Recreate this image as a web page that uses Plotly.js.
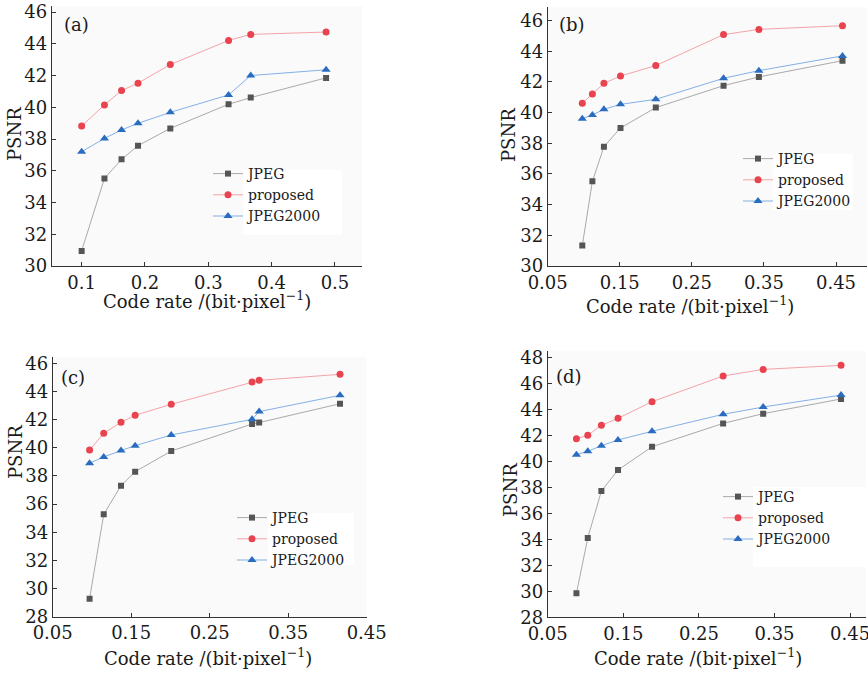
<!DOCTYPE html>
<html>
<head>
<meta charset="utf-8">
<script src="https://cdn.plot.ly/plotly-3.0.1.min.js"></script>
<style>html,body{margin:0;padding:0;background:#fff}#chart{width:868px;height:673px}</style>
</head>
<body>
<div id="chart"></div>
<script>
// ---------- data ----------
const seriesNames = ["JPEG", "proposed", "JPEG2000"];
const panelLabels = ["(a)", "(b)", "(c)", "(d)"];

const rateA = [0.100, 0.136, 0.163, 0.189, 0.240, 0.332, 0.367, 0.486];
const jpegA = [30.95, 35.52, 36.72, 37.58, 38.67, 40.19, 40.61, 41.85];
const propA = [38.82, 40.15, 41.05, 41.52, 42.69, 44.21, 44.59, 44.74];
const j2kA  = [37.20, 38.04, 38.57, 38.99, 39.68, 40.78, 42.00, 42.36];

const rateB = [0.098, 0.112, 0.128, 0.151, 0.200, 0.294, 0.343, 0.459];
const jpegB = [31.33, 35.52, 37.78, 39.00, 40.33, 41.76, 42.33, 43.39];
const propB = [40.61, 41.22, 41.91, 42.39, 43.07, 45.09, 45.43, 45.67];
const j2kB  = [39.61, 39.85, 40.22, 40.54, 40.87, 42.24, 42.74, 43.70];

const rateC = [0.097, 0.115, 0.137, 0.155, 0.201, 0.304, 0.313, 0.416];
const jpegC = [29.28, 35.27, 37.31, 38.30, 39.77, 41.69, 41.79, 43.13];
const propC = [39.84, 41.03, 41.81, 42.31, 43.09, 44.67, 44.79, 45.22];
const j2kC  = [38.90, 39.35, 39.80, 40.15, 40.91, 42.02, 42.57, 43.73];

const rateD = [0.088, 0.103, 0.121, 0.143, 0.188, 0.282, 0.335, 0.438];
const jpegD = [29.85, 34.11, 37.73, 39.35, 41.14, 42.94, 43.69, 44.82];
const propD = [41.76, 42.02, 42.79, 43.33, 44.61, 46.59, 47.10, 47.41];
const j2kD  = [40.53, 40.79, 41.22, 41.66, 42.33, 43.64, 44.20, 45.12];

const xTickA = [0.1, 0.2, 0.3, 0.4, 0.5];
const xTickBCD = [0.05, 0.15, 0.25, 0.35, 0.45];

// ---------- layout helpers ----------
const W = 868, H = 673;
const px = v => v / W;
const py = v => 1 - v / H;
const FONT = "DejaVu Serif";
const TXT = "#1a1a1a";

const panels = [
  {rate: rateA, vals: [jpegA, propA, j2kA], xd: [51.7, 362], yd: [266, 6], xr: [0.0527, 0.5427], yr: [30, 46.38], yt: [30, 46], xt: xTickA,
   leg: [208, 158], box: [243, 170, 342, 235], xtitle: [207, 300], ytitle: [15, 134], lab: [76, 25]},
  {rate: rateB, vals: [jpegB, propB, j2kB], xd: [547.7, 866.7], yd: [266, 7.3], xr: [0.05, 0.4926], yr: [30, 46.87], yt: [30, 46], xt: xTickBCD,
   leg: [738, 143], box: [773, 154, 853, 210], xtitle: [690, 305], ytitle: [509, 135], lab: [572, 25]},
  {rate: rateC, vals: [jpegC, propC, j2kC], xd: [52.7, 366.7], yd: [616.7, 356.7], xr: [0.05, 0.45], yr: [28, 46.47], yt: [28, 46], xt: xTickBCD,
   leg: [232, 502], box: [268, 513, 354, 565], xtitle: [208, 657], ytitle: [16, 452], lab: [73, 377]},
  {rate: rateD, vals: [jpegD, propD, j2kD], xd: [547.7, 866], yd: [617.3, 350.7], xr: [0.05, 0.471], yr: [28, 48.54], yt: [28, 48], xt: xTickBCD,
   leg: [718, 481], box: [753, 487, 868, 567], xtitle: [698, 657], ytitle: [510, 490], lab: [569, 376]}
];

const styles = [
  {line: "#a9a9a9", marker: "#555555", symbol: "square", size: 6},
  {line: "#f4a3a8", marker: "#e8434f", symbol: "circle", size: 7},
  {line: "#82b0e6", marker: "#2a6cbf", symbol: "triangle-up", size: 8}
];

const traces = [];
const layout = {
  width: W, height: H,
  margin: {l: 0, r: 0, t: 0, b: 0},
  paper_bgcolor: "#ffffff",
  plot_bgcolor: "#fafafa",
  font: {family: FONT, color: TXT, size: 18},
  showlegend: true,
  annotations: [],
  shapes: []
};

panels.forEach((p, i) => {
  const n = i === 0 ? "" : String(i + 1);
  const legName = i === 0 ? "legend" : "legend" + (i + 1);
  p.vals.forEach((v, k) => {
    traces.push({
      x: p.rate, y: v, type: "scatter", mode: "lines+markers",
      name: seriesNames[k],
      xaxis: "x" + n, yaxis: "y" + n,
      legend: legName,
      line: {color: styles[k].line, width: 1},
      marker: {color: styles[k].marker, symbol: styles[k].symbol, size: styles[k].size},
      showlegend: true
    });
  });
  const axCommon = {showline: true, linecolor: "#333", linewidth: 1, ticks: "inside", ticklen: 4,
    tickcolor: "#333", showgrid: false, zeroline: false, mirror: false,
    ticklabeloverflow: "allow",
    tickfont: {family: FONT, size: 18, color: TXT}};
  layout["xaxis" + n] = Object.assign({}, axCommon, {
    domain: [px(p.xd[0]), px(p.xd[1])], range: p.xr, anchor: "y" + n,
    tickmode: "array", tickvals: p.xt, ticktext: p.xt.map(String)
  });
  layout["yaxis" + n] = Object.assign({}, axCommon, {
    domain: [py(p.yd[0]), py(p.yd[1])], range: p.yr, anchor: "x" + n,
    tick0: p.yt[0], dtick: 2
  });
  layout[legName] = {
    x: px(p.leg[0]), y: py(p.leg[1]), xanchor: "left", yanchor: "top",
    bgcolor: "rgba(0,0,0,0)", borderwidth: 0,
    font: {family: FONT, size: 14, color: TXT},
    tracegroupgap: 0, itemwidth: 30
  };
  layout.shapes.push({type: "rect", xref: "paper", yref: "paper",
    x0: px(p.box[0]), x1: px(p.box[2]), y0: py(p.box[3]), y1: py(p.box[1]),
    fillcolor: "#ffffff", line: {width: 0}, layer: "above"});
  layout.annotations.push({xref: "paper", yref: "paper", x: px(p.xtitle[0]), y: py(p.xtitle[1]),
    xanchor: "center", yanchor: "middle", showarrow: false,
    text: "Code rate /(bit·pixel<sup>−1</sup>)", font: {family: FONT, size: 18, color: TXT}});
  layout.annotations.push({xref: "paper", yref: "paper", x: px(p.ytitle[0]), y: py(p.ytitle[1]),
    xanchor: "center", yanchor: "middle", showarrow: false, textangle: -90,
    text: "PSNR", font: {family: FONT, size: 18, color: TXT}});
  layout.annotations.push({xref: "paper", yref: "paper", x: px(p.lab[0]), y: py(p.lab[1]),
    xanchor: "center", yanchor: "middle", showarrow: false,
    text: panelLabels[i], font: {family: FONT, size: 18, color: TXT}});
});

Plotly.newPlot("chart", traces, layout, {displayModeBar: false, staticPlot: true});
</script>
</body>
</html>
